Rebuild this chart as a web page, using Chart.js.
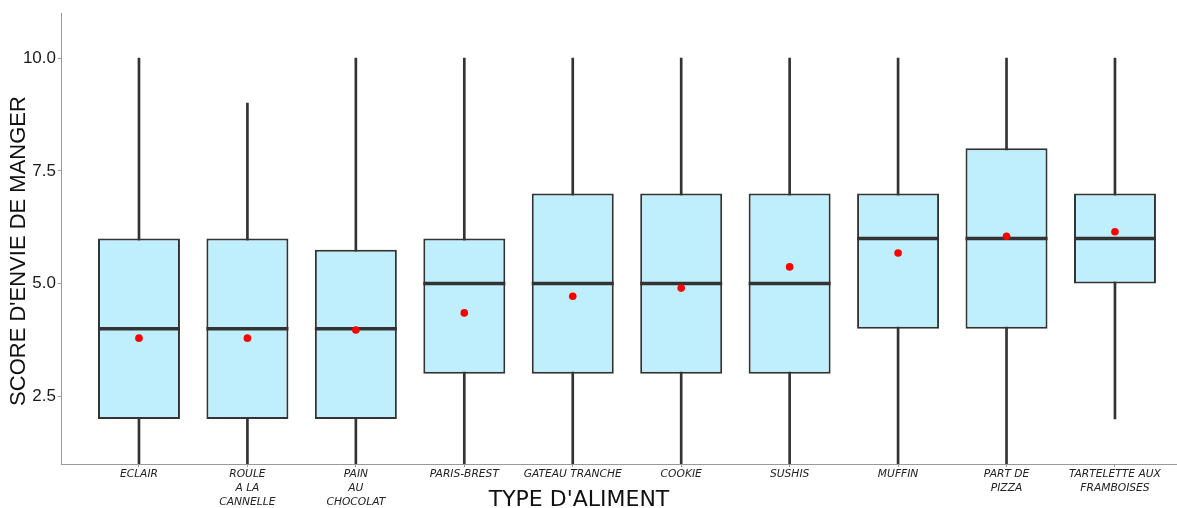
<!DOCTYPE html>
<html>
<head>
<meta charset="utf-8">
<script src="https://cdn.jsdelivr.net/npm/chart.js@4.4.1/dist/chart.umd.min.js"></script>
<style>
  html, body { margin: 0; padding: 0; background: #fff; }
  #wrap { width: 1177px; height: 508px; position: relative; }
</style>
</head>
<body>
<div id="wrap"><canvas id="myChart"></canvas></div>
<script>
// categories (multi-line tick labels)
const categories = [
    ['ECLAIR'],
    ['ROULE', 'A LA', 'CANNELLE'],
    ['PAIN', 'AU', 'CHOCOLAT'],
    ['PARIS-BREST'],
    ['GATEAU TRANCHE'],
    ['COOKIE'],
    ['SUSHIS'],
    ['MUFFIN'],
    ['PART DE', 'PIZZA'],
    ['TARTELETTE AUX', 'FRAMBOISES']
];

const whiskerLow  = [1, 1, 1, 1, 1, 1, 1, 1, 1, 2];
const whiskerHigh = [10, 9, 10, 10, 10, 10, 10, 10, 10, 10];
const q1          = [2, 2, 2, 3, 3, 3, 3, 4, 4, 5];
const q3          = [6, 6, 5.75, 6, 7, 7, 7, 7, 8, 7];
const medians     = [4, 4, 4, 5, 5, 5, 5, 6, 6, 6];
const means       = [3.79, 3.79, 3.97, 4.35, 4.72, 4.90, 5.37, 5.68, 6.05, 6.15];

const yTicks = [2.5, 5.0, 7.5, 10.0];

const xTitle = "TYPE D'ALIMENT";
const yTitle = "SCORE D'ENVIE DE MANGER";

// titles drawn where the original puts them
const axisTitles = {
    id: 'axisTitles',
    afterDraw(chart) {
        const ctx = chart.ctx;
        const area = chart.chartArea;
        ctx.save();
        ctx.fillStyle = '#111';
        ctx.textAlign = 'center';
        ctx.font = '22px "DejaVu Sans"';
        ctx.textBaseline = 'alphabetic';
        ctx.fillText(xTitle, area.left + 518, 506);
        ctx.translate(19, 251);
        ctx.rotate(-Math.PI / 2);
        ctx.font = '22px "Liberation Sans"';
        ctx.textBaseline = 'middle';
        ctx.fillText(yTitle, 0, 0);
        ctx.restore();
    }
};

window.onload = () => {
    const ctx = document.getElementById('myChart').getContext('2d');
    const xs = categories.map((c, i) => i + 1);

    new Chart(ctx, {
        type: 'bar',
        data: {
            datasets: [{
                label: 'whiskers',
                data: xs.map((x, i) => ({x: x, y: [whiskerLow[i], whiskerHigh[i]]})),
                backgroundColor: '#333333',
                borderWidth: 0,
                barThickness: 2,
                grouped: false,
                order: 4
            }, {
                label: 'boxes',
                data: xs.map((x, i) => ({x: x, y: [q1[i], q3[i]]})),
                backgroundColor: '#BFEEFC',
                borderColor: '#333333',
                borderWidth: 2,
                borderSkipped: false,
                barPercentage: 0.756,
                categoryPercentage: 1,
                grouped: false,
                order: 3
            }, {
                type: 'scatter',
                label: 'median',
                data: xs.map((x, i) => ({x: x, y: medians[i]})),
                pointStyle: 'line',
                pointRadius: 41,
                borderColor: '#333333',
                borderWidth: 3.5,
                order: 2
            }, {
                type: 'scatter',
                label: 'mean',
                data: xs.map((x, i) => ({x: x, y: means[i]})),
                pointStyle: 'circle',
                pointRadius: 3.8,
                backgroundColor: '#FF0000',
                borderWidth: 0,
                order: 1
            }]
        },
        plugins: [axisTitles],
        options: {
            responsive: true,
            maintainAspectRatio: false,
            animation: false,
            layout: {
                autoPadding: false,
                padding: { top: 13, left: 0, right: 0, bottom: 0 }
            },
            plugins: {
                legend: { display: false },
                tooltip: { enabled: false }
            },
            scales: {
                x: {
                    type: 'linear',
                    min: 0.281,
                    max: 10.572,
                    offset: false,
                    afterFit: (scale) => { scale.height = 44; },
                    afterBuildTicks: (scale) => {
                        scale.ticks = xs.map(v => ({value: v}));
                    },
                    grid: {
                        offset: false,
                        drawOnChartArea: false,
                        drawTicks: true,
                        tickLength: 3,
                        color: '#999999'
                    },
                    border: { color: '#999999', width: 1 },
                    ticks: {
                        autoSkip: false,
                        maxRotation: 0,
                        padding: 0,
                        color: '#222222',
                        font: { family: 'DejaVu Sans', size: 10.7, style: 'italic', lineHeight: 1.3 },
                        callback: (v) => categories[Math.round(v) - 1]
                    }
                },
                y: {
                    min: 1,
                    max: 11,
                    afterFit: (scale) => { scale.width = 61; },
                    afterBuildTicks: (scale) => {
                        scale.ticks = yTicks.map(v => ({value: v}));
                    },
                    grid: {
                        drawOnChartArea: false,
                        drawTicks: true,
                        tickLength: 3,
                        color: '#999999'
                    },
                    border: { color: '#999999', width: 1 },
                    ticks: {
                        padding: 2,
                        color: '#1a1a1a',
                        font: { family: 'Liberation Sans', size: 17 },
                        callback: (v) => v.toFixed(1)
                    }
                }
            }
        }
    });
};
</script>
</body>
</html>
